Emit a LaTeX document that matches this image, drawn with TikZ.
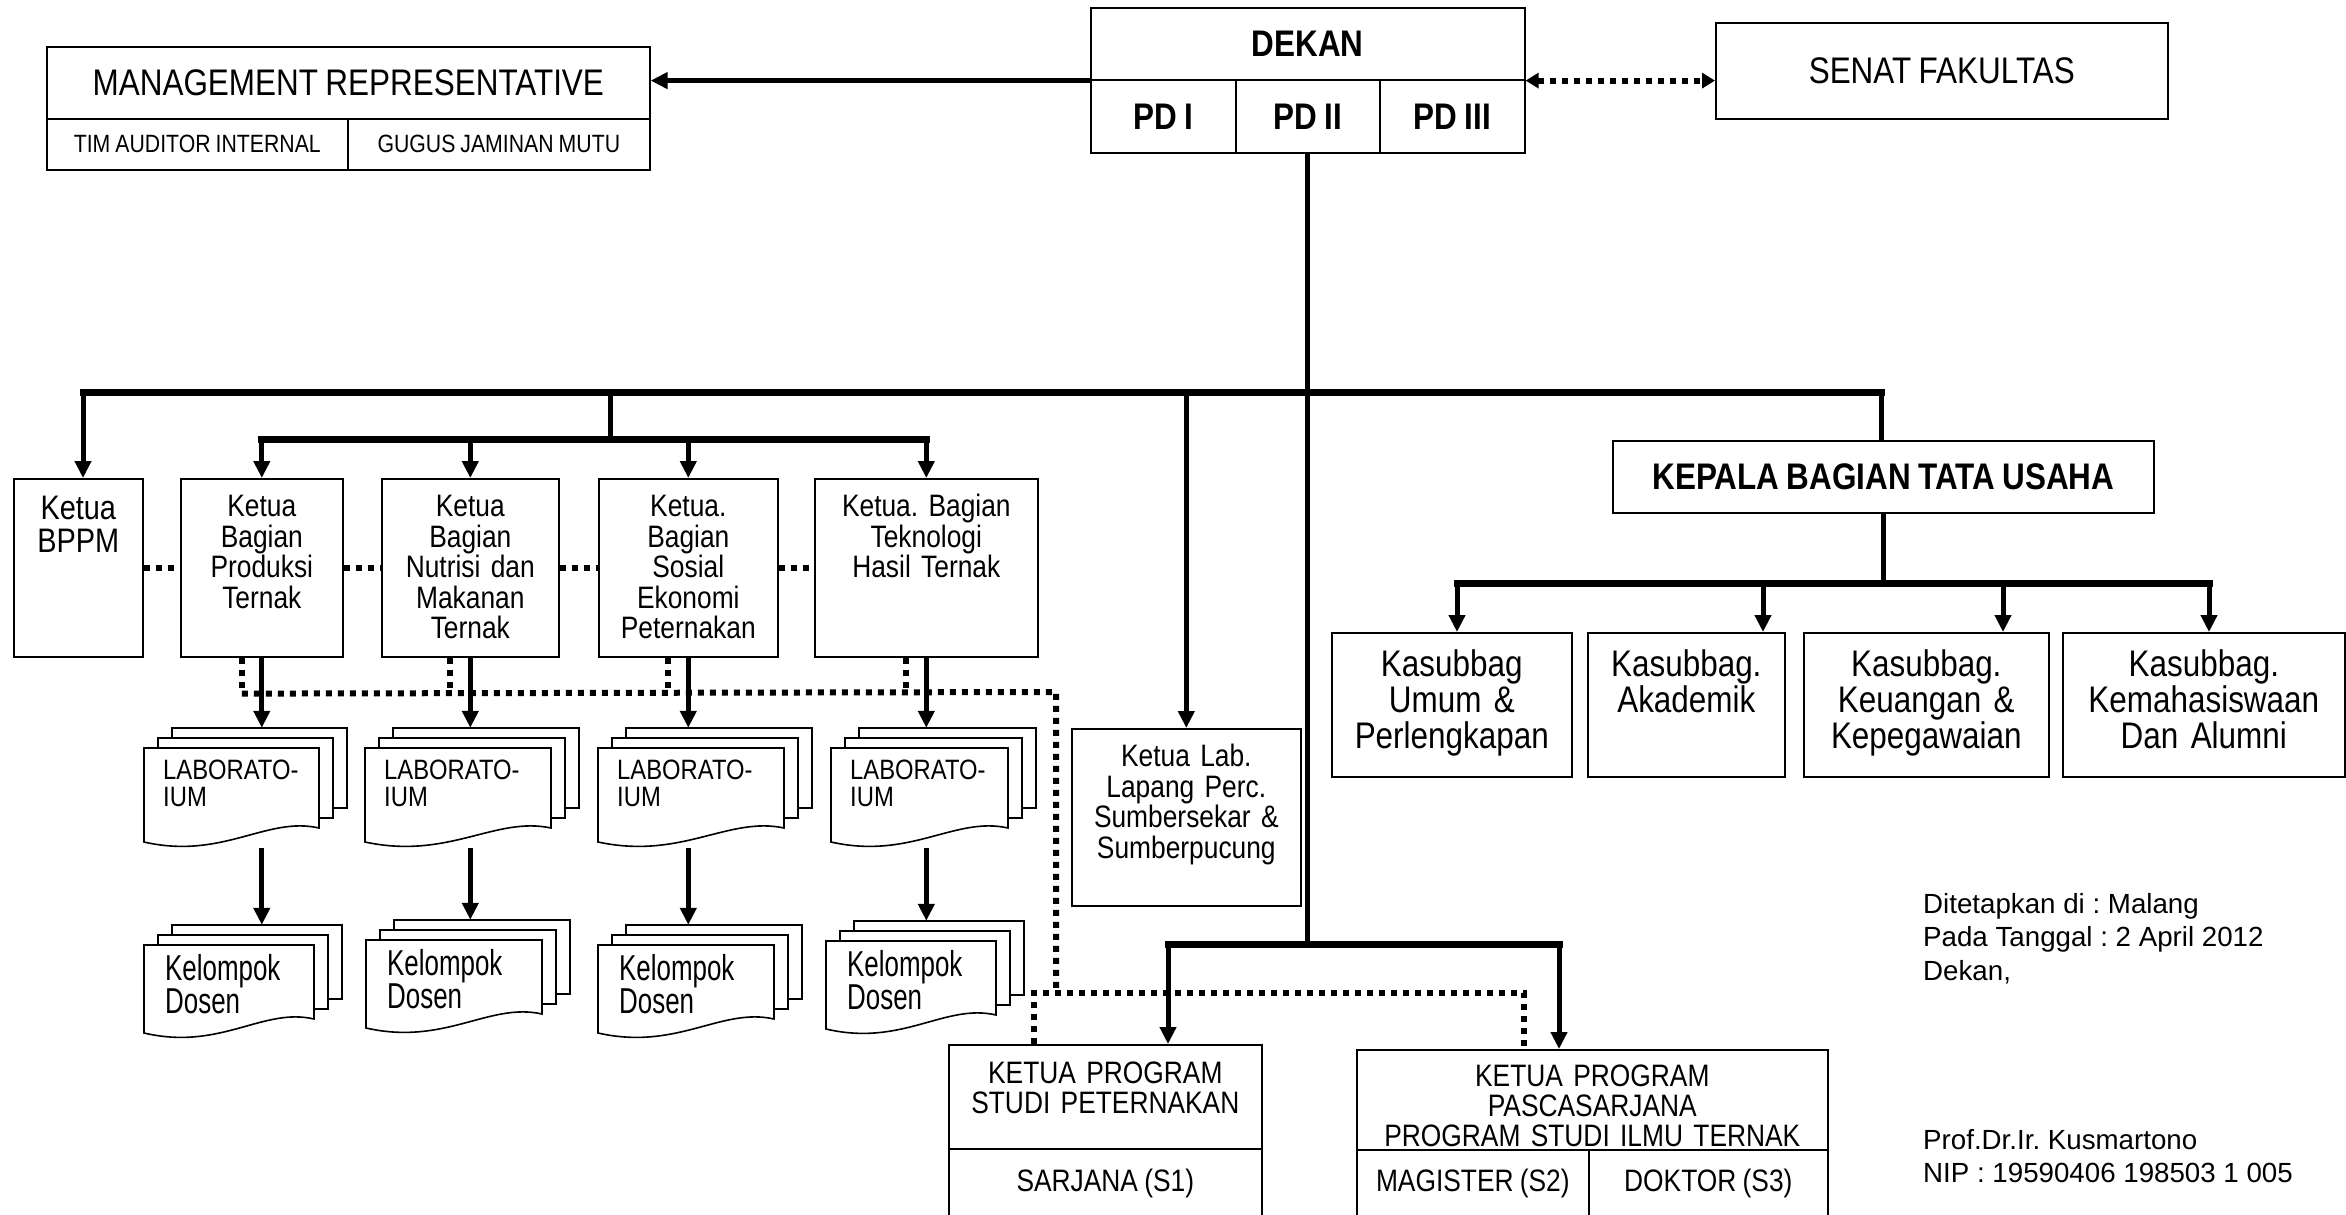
\documentclass[tikz,border=0pt]{standalone}
\usepackage{fontspec}
\setmainfont{Liberation Sans}
\newfontfamily\narrow{Liberation Sans}[FakeStretch=0.85, WordSpace=0.85]
\newfontfamily\tight{Liberation Sans}[FakeStretch=0.72, WordSpace=0.72]
\usetikzlibrary{arrows.meta,calc,fit}
\frenchspacing

\newcommand{\fs}[2]{\fontsize{#1pt}{#2pt}\selectfont}

\tikzset{
  cell/.style 2 args={draw, line width=1.6pt, inner sep=0pt, minimum width=#1, minimum height=#2, anchor=north west, align=center},
  topbox/.style n args={3}{draw, line width=1.6pt, inner sep=0pt, text width=#1pt, text height=#2pt, text depth=#3pt, anchor=north west, align=center},
  page/.style={draw, line width=1.6pt, fill=white},
  conn/.style={line width=5pt},
  bus/.style={line width=7pt, line cap=rect},
  arr/.style={line width=5pt, -{Triangle[length=17pt,width=16pt]}},
  dot/.style={line width=6pt, dash pattern=on 6pt off 6pt},
  dotarr/.style={dot, {Triangle[length=13pt,width=15pt]}-{Triangle[length=13pt,width=15pt]}},
  big/.style={font=\narrow\fs{37}{36}},
  bigb/.style={font=\narrow\bfseries\fs{37}{36}},
  small/.style={font=\narrow\fs{25}{25}},
  dept/.style={font=\narrow\fs{31}{30.5}},
  prog/.style={font=\narrow\fs{31}{30}},
  labtxt/.style={font=\narrow\fs{28}{27}, xshift=19pt, yshift=-12pt},
  kdtxt/.style={font=\tight\fs{36}{32}, xshift=21pt, yshift=-9pt},
  sign/.style={anchor=north west, inner sep=0pt, align=left, font=\fs{27.7}{33.5}}
}

\newcommand{\docstack}[7]{%
  \foreach \s in {28,14}{
    \draw[page] (#2+\s,#3-0.72*\s) rectangle (#2+#4+\s,#3+#5-0.72*\s);
  }
  \draw[page] (#2,#3) -- (#2+#4,#3) -- (#2+#4,#3+#5)
    .. controls (#2+0.7*#4,#3+#5-12) and (#2+0.45*#4,#3+#5+32) .. (#2,#3+#5+14) -- cycle;
  \node[fit={(#2,#3-20) (#2+#4+28,#3+#5+20)}, inner sep=0pt] (#1) {};
  \node[anchor=north west, inner sep=0pt, align=left, #6] (#1txt) at (#2,#3) {#7};
}

\begin{document}
\begin{tikzpicture}[x=1pt, y=-1pt]
\useasboundingbox (0,0) rectangle (2346,1215);

\node[cell={603}{72}, big] (mr) at (46,46) {MANAGEMENT REPRESENTATIVE};
\node[cell={301}{51}, small] (tai) at (46,118) {TIM AUDITOR INTERNAL};
\node[cell={302}{51}, small] (gjm) at (347,118) {GUGUS JAMINAN MUTU};

\node[cell={434}{72}, bigb] (dekan) at (1090,7) {DEKAN};
\node[cell={145}{73}, bigb] (pd1) at (1090,79) {PD I};
\node[cell={144}{73}, bigb] (pd2) at (1235,79) {PD II};
\node[cell={145}{73}, bigb] (pd3) at (1379,79) {PD III};

\node[cell={452}{96}, big] (senat) at (1715,22) {SENAT FAKULTAS};

\node[topbox={129}{41}{137}, font=\narrow\fs{34}{33}] (bppm) at (13,478) {Ketua\\BPPM};
\node[topbox={162}{38}{140}, dept] (prod) at (180,478) {Ketua\\Bagian\\Produksi\\Ternak};
\node[topbox={177}{38}{140}, dept] (nut) at (381,478) {Ketua\\Bagian\\Nutrisi dan\\Makanan\\Ternak};
\node[topbox={179}{38}{140}, dept] (sos) at (598,478) {Ketua.\\Bagian\\Sosial\\Ekonomi\\Peternakan};
\node[topbox={223}{38}{140}, dept] (tek) at (814,478) {Ketua. Bagian\\Teknologi\\Hasil Ternak};

\node[topbox={229}{38}{139}, dept] (klab) at (1071,728) {Ketua Lab.\\Lapang Perc.\\Sumbersekar \&\\Sumberpucung};

\node[cell={541}{72}, bigb] (kbtu) at (1612,440) {KEPALA BAGIAN TATA USAHA};
\node[topbox={240}{44}{100}, big] (umum) at (1331,632) {Kasubbag\\Umum \&\\Perlengkapan};
\node[topbox={197}{44}{100}, big] (akad) at (1587,632) {Kasubbag.\\Akademik};
\node[topbox={245}{44}{100}, big] (keu) at (1803,632) {Kasubbag.\\Keuangan \&\\Kepegawaian};
\node[topbox={282}{44}{100}, big] (kema) at (2062,632) {Kasubbag.\\Kemahasiswaan\\Dan Alumni};

\node[topbox={313}{39}{65}, prog] (kps) at (948,1044) {KETUA PROGRAM\\STUDI PETERNAKAN};
\node[cell={313}{70}, prog] (s1) at (948,1148) {SARJANA (S1)};
\node[topbox={471}{37}{63}, prog] (pasca) at (1356,1049) {KETUA PROGRAM\\PASCASARJANA\\PROGRAM STUDI ILMU TERNAK};
\node[cell={232}{68}, prog] (s2) at (1356,1149) {MAGISTER (S2)};
\node[cell={239}{68}, prog] (s3) at (1588,1149) {DOKTOR (S3)};

\docstack{lab1}{144}{748}{175}{80}{labtxt}{LABORATO-\\IUM}
\docstack{lab2}{365}{748}{186}{80}{labtxt}{LABORATO-\\IUM}
\docstack{lab3}{598}{748}{186}{80}{labtxt}{LABORATO-\\IUM}
\docstack{lab4}{831}{748}{177}{80}{labtxt}{LABORATO-\\IUM}
\docstack{kd1}{144}{945}{170}{74}{kdtxt}{Kelompok\\Dosen}
\docstack{kd2}{366}{940}{176}{74}{kdtxt}{Kelompok\\Dosen}
\docstack{kd3}{598}{945}{176}{74}{kdtxt}{Kelompok\\Dosen}
\docstack{kd4}{826}{941}{170}{74}{kdtxt}{Kelompok\\Dosen}

\node[sign] (tetap) at (1923,893) {Ditetapkan di : Malang\\Pada Tanggal : 2 April 2012\\Dekan,};
\node[sign] (ttd) at (1923,1129) {Prof.Dr.Ir. Kusmartono\\NIP : 19590406 198503 1 005};

\draw[arr] (dekan.south west) -- (dekan.south west -| mr.east);
\draw[dotarr] (dekan.south east) -- (dekan.south east -| senat.west);

\coordinate (busL) at (83,392);
\coordinate (busR) at (1881,392);
\coordinate (deptbus) at (610,439);
\coordinate (progbus) at (1306,944);
\coordinate (progL) at (1168,944);
\coordinate (progR) at (1559,944);

\draw[conn] (pd2.south) -- (pd2.south |- progbus);
\draw[bus] (busL) -- (busR);
\draw[arr] (busL) -- (busL |- bppm.north);
\draw[conn] (deptbus |- busL) -- (deptbus);
\draw[bus] (prod.north |- deptbus) -- (tek.north |- deptbus);
\foreach \n in {prod,nut,sos,tek}
  \draw[arr] (\n.north |- deptbus) -- (\n.north);
\draw[arr] (klab.north |- busL) -- (klab.north);
\draw[conn] (busR) -- (busR |- kbtu.north);

\draw[conn] (kbtu.south) -- (kbtu.south |- 0,583);
\foreach \n/\x [count=\i] in {umum/1457, akad/1763, keu/2003, kema/2209}{
  \coordinate (tu\i) at (\x,583);
  \draw[arr] (tu\i) -- (tu\i |- \n.north);
}
\draw[bus] (tu1) -- (tu4);

\draw[bus] (progL) -- (progR);
\draw[arr] (progL) -- (progL |- kps.north);
\draw[arr] (progR) -- (progR |- pasca.north);

\foreach \n/\m/\k in {prod/lab1/kd1, nut/lab2/kd2, sos/lab3/kd3, tek/lab4/kd4}{
  \draw[arr] (\n.south) -- (\n.south |- \m.north);
  \draw[arr] (\n.south |- \m.south) -- (\n.south |- \k.north);
}

\draw[dot] (bppm) -- (prod);
\draw[dot] (prod) -- (nut);
\draw[dot] (nut) -- (sos);
\draw[dot] (sos) -- (tek);

\coordinate (dotbus) at (1056,692);
\coordinate (dotL) at (1034,993);
\coordinate (dotR) at (1524,993);
\foreach \n in {prod,nut,sos,tek}
  \draw[dot] ($(\n.south)+(-20,0)$) -- ($(\n.south)+(-20,36)$);
\draw[dot] ($(prod.south)+(-20,36)$) -- (dotbus) -- (dotbus |- dotL);
\draw[dot] (dotL |- kps.north) -- (dotL) -- (dotR) -- (dotR |- pasca.north);
\end{tikzpicture}
\end{document}
